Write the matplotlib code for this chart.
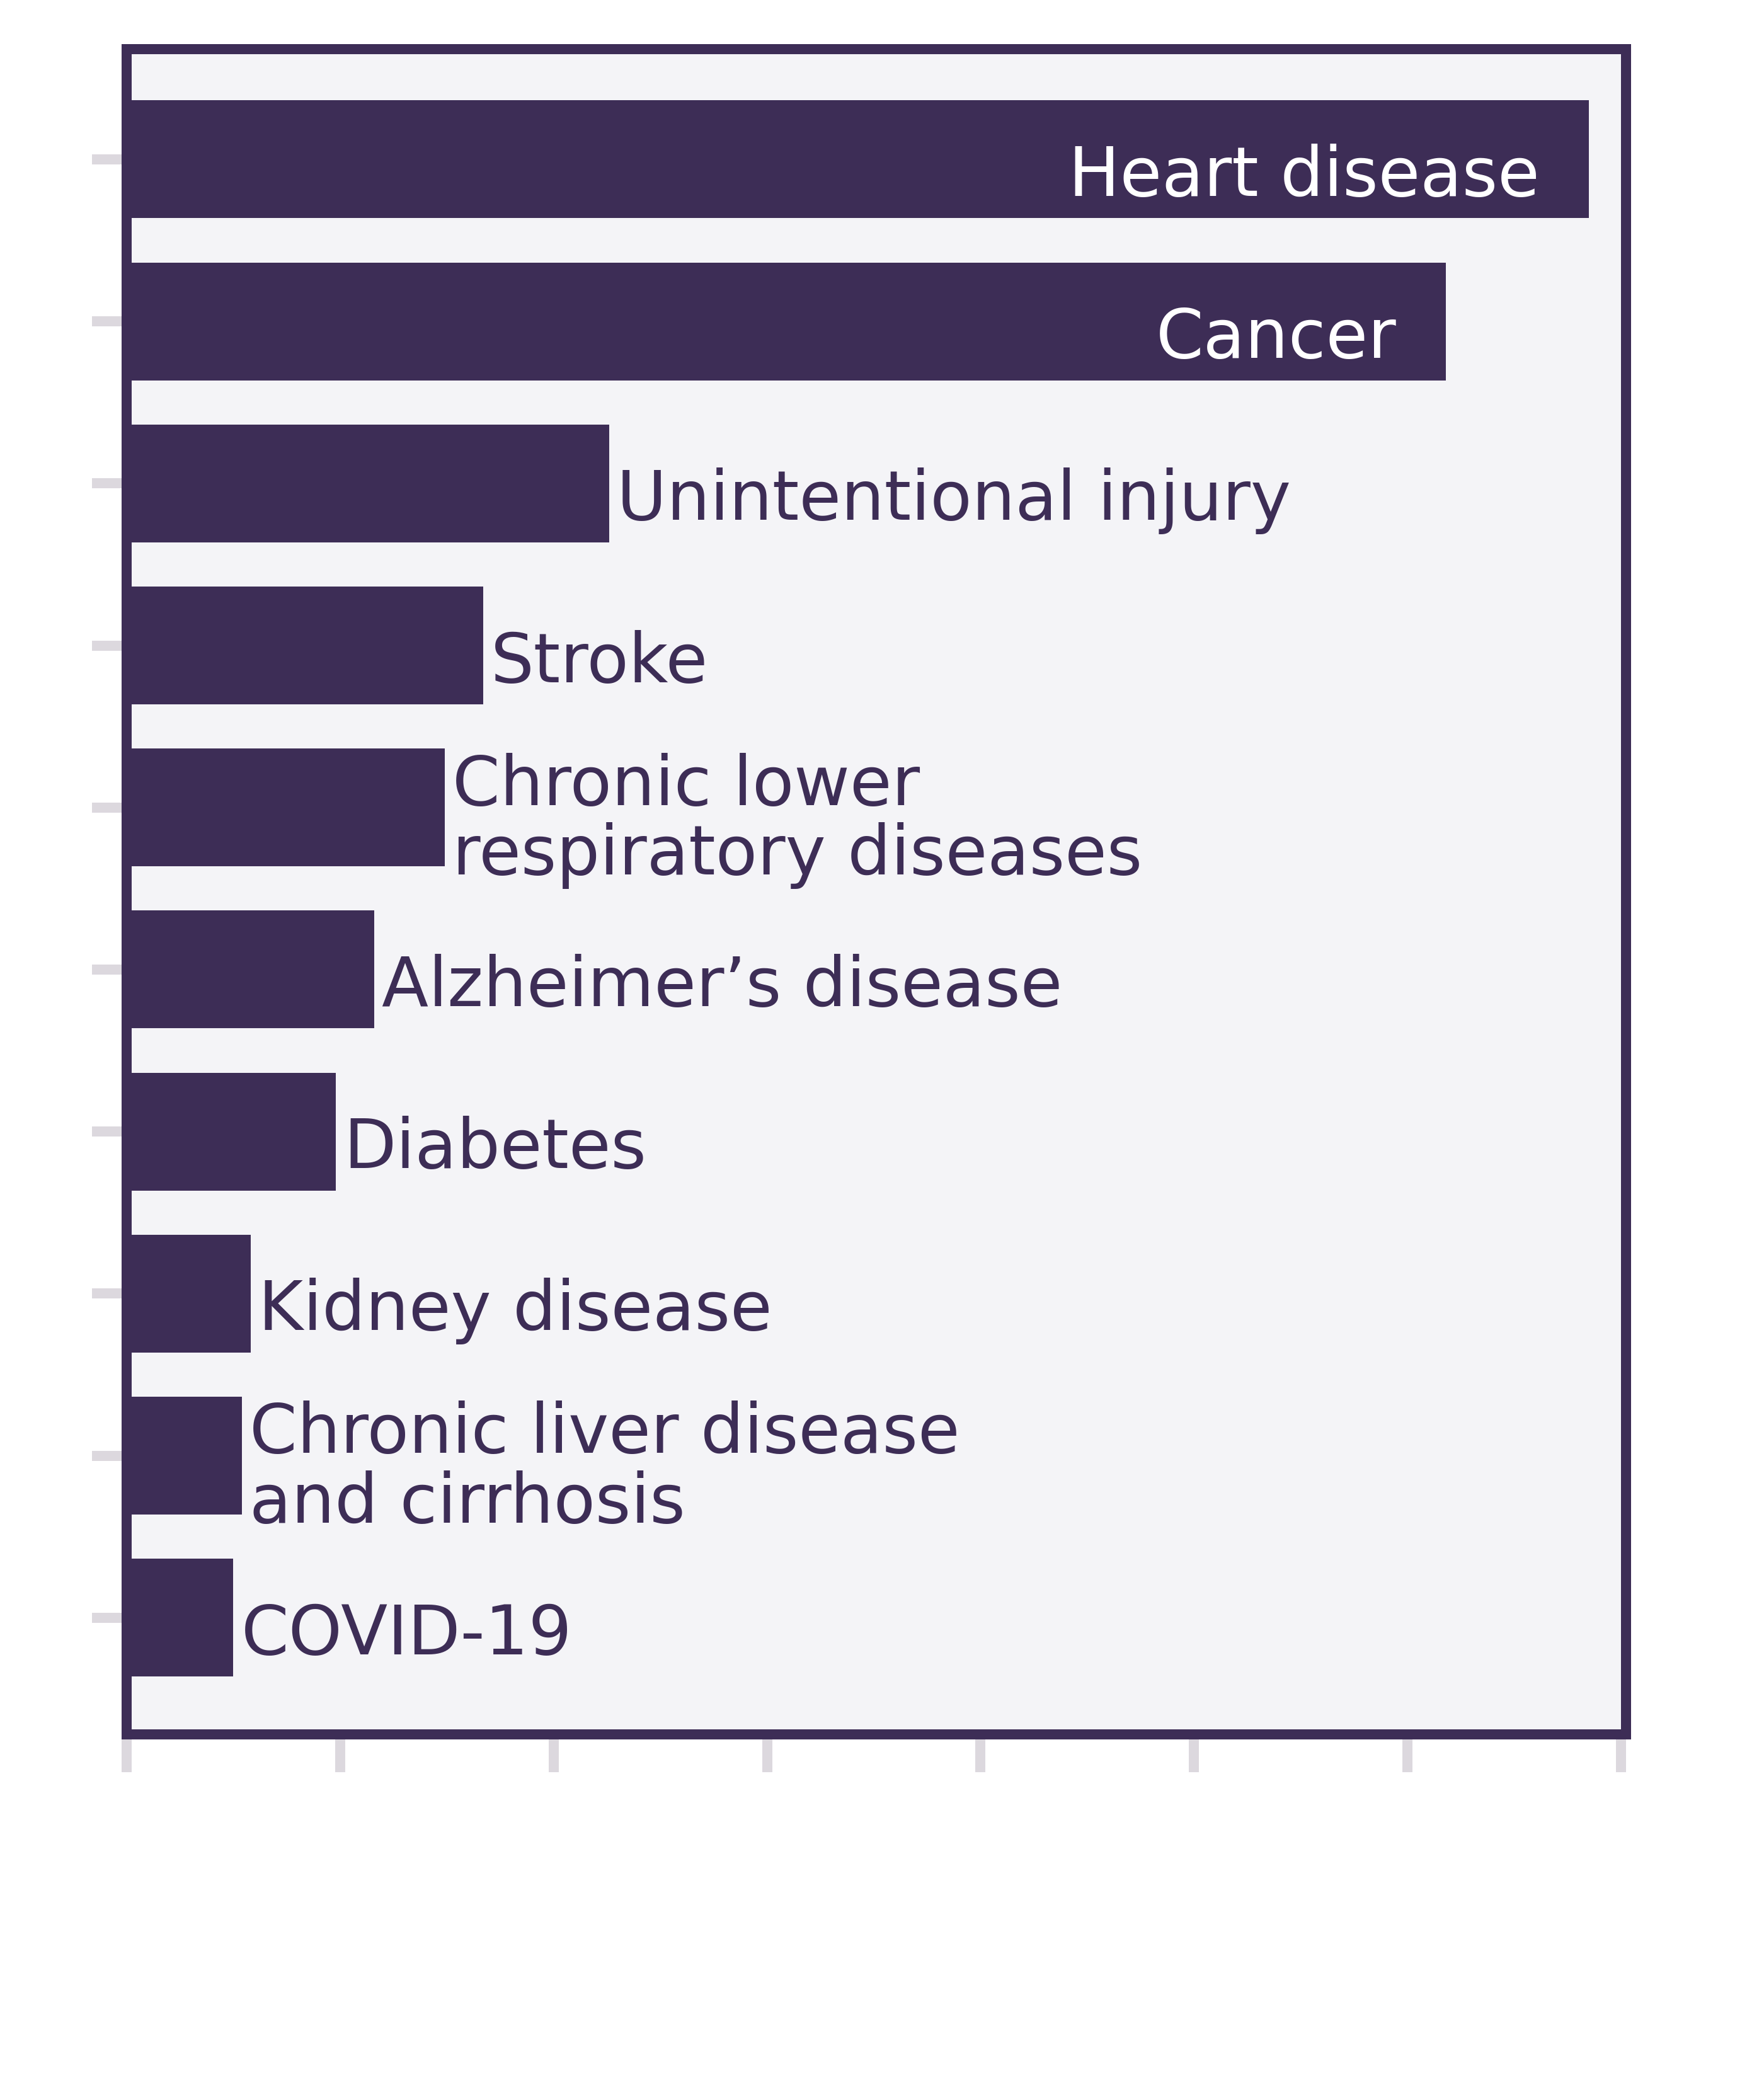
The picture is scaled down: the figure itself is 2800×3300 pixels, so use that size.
import matplotlib
matplotlib.use("Agg")
import matplotlib.pyplot as plt

categories = ["Heart disease", "Cancer", "Unintentional injury", "Stroke",
              "Chronic lower\nrespiratory diseases", "Alzheimer\u2019s disease",
              "Diabetes", "Kidney disease", "Chronic liver disease\nand cirrhosis",
              "COVID-19"]
deaths_thousands = [685, 618, 226, 167, 149, 116, 98, 58, 54, 50]
inside_label = [True, True, False, False, False, False, False, False, False, False]
x_ticks = [0, 100, 200, 300, 400, 500, 600, 700]

DPI = 100
PT = 72.0 / DPI  # points per pixel
BAR = "#3D2D56"
BG = "#F4F4F7"
TICK = "#DCD8DE"

plt.rcParams['font.family'] = ['DejaVu Sans']

fig = plt.figure(figsize=(28, 33), dpi=DPI)
W, H = 2800, 3300
left, right, top, bottom = 201, 2581, 78, 2753
ax = fig.add_axes([left / W, 1 - bottom / H, (right - left) / W, (bottom - top) / H])
ax.set_facecolor(BG)

ypos = list(range(len(categories)))
ax.barh(ypos, deaths_thousands, height=0.727, color=BAR, zorder=2)

ax.set_xlim(0, 702.4)
ax.set_ylim(9.72, -0.68)
ax.set_xticks(x_ticks)
ax.set_yticks(ypos)
ax.set_xticklabels([])
ax.set_yticklabels([])
ax.tick_params(axis='x', length=60 * PT, width=16 * PT, color=TICK, direction='out')
ax.tick_params(axis='y', length=55 * PT, width=16 * PT, color=TICK, direction='out')
for s in ax.spines.values():
    s.set_color(BAR)
    s.set_linewidth(16 * PT)
    s.set_zorder(3)

fs = 108.4 * PT
for y, v, lab, inside in zip(ypos, deaths_thousands, categories, inside_label):
    # baseline of the last line, in pixels below the bar centre
    dy = -106 if "\n" in lab else -58
    if inside:
        ax.annotate(lab, xy=(v, y), xytext=(-78 * PT, dy * PT), textcoords='offset points',
                    ha='right', va='baseline', fontsize=fs, color='white', zorder=4)
    else:
        ax.annotate(lab, xy=(v, y), xytext=(12 * PT, dy * PT), textcoords='offset points',
                    ha='left', va='baseline', fontsize=fs, color=BAR, linespacing=1.05,
                    zorder=4)

fig.savefig("out.png", dpi=DPI, facecolor='white')
